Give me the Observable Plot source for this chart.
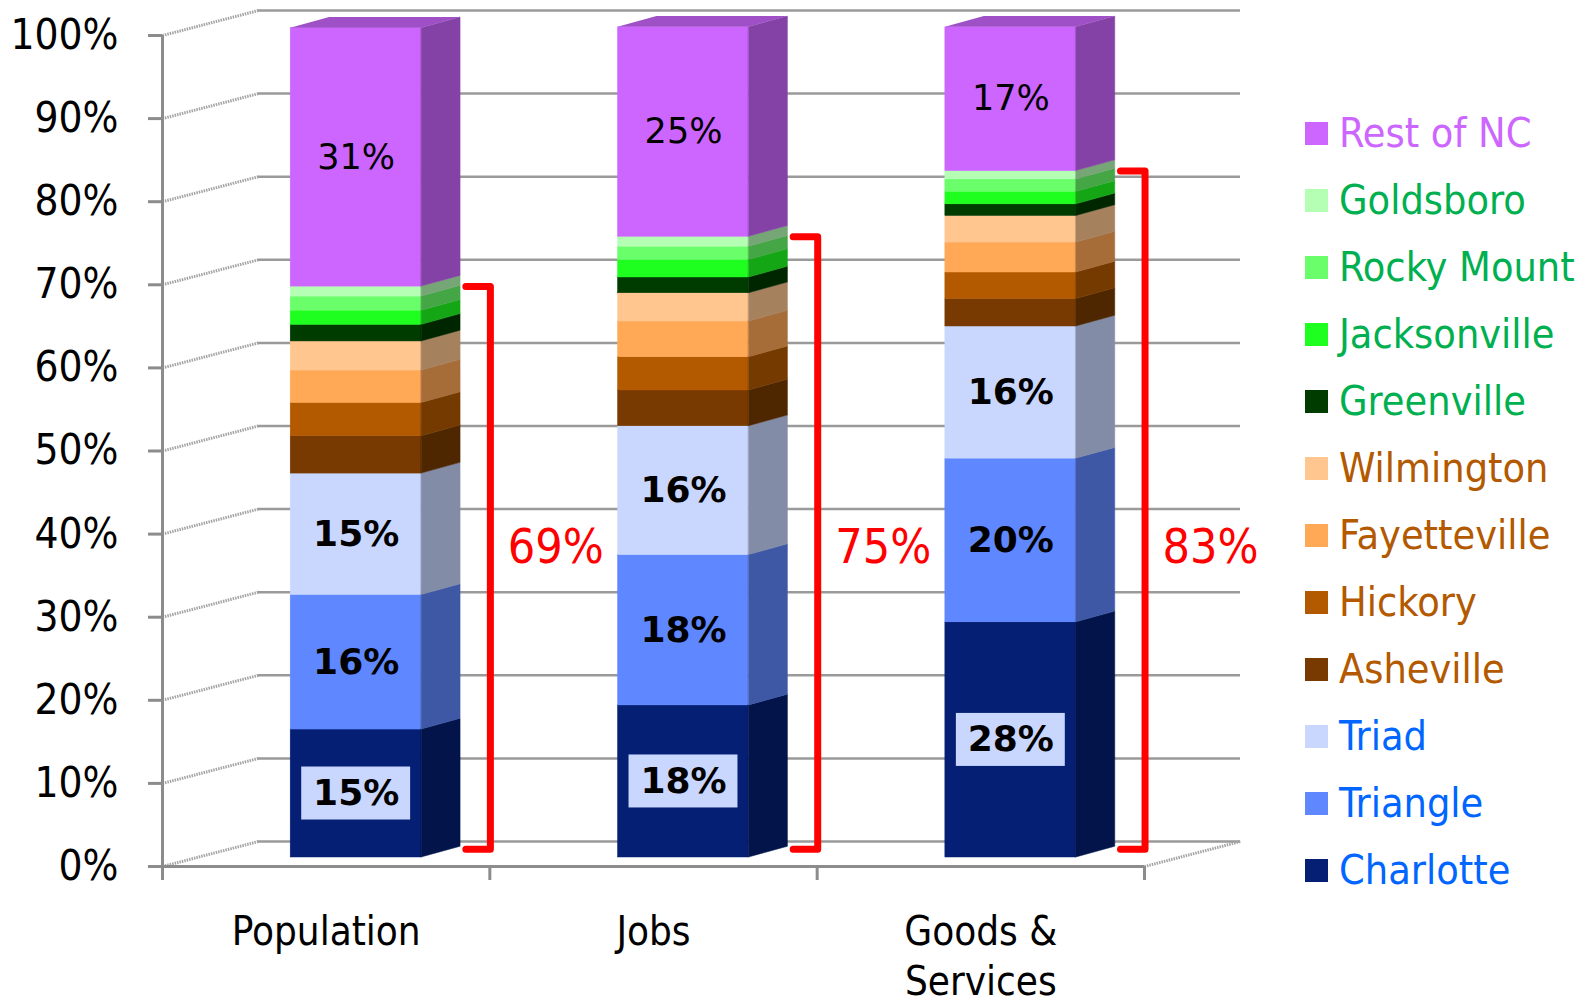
<!DOCTYPE html>
<html><head><meta charset="utf-8">
<script src="https://cdn.jsdelivr.net/npm/d3@7"></script>
<script src="https://cdn.jsdelivr.net/npm/@observablehq/plot@0.6"></script>
<style>
body{margin:0;background:#fff;}
#wrap{position:relative;width:1589px;height:1003px;overflow:hidden;background:#fff;}
#legend{position:absolute;left:1305px;top:0;font-family:"DejaVu Sans Condensed","DejaVu Sans",sans-serif;font-size:41px;}
.item{position:absolute;left:0;display:flex;align-items:center;height:60px;white-space:nowrap;}
.sw{width:23px;height:23px;margin-right:11px;flex:none;}
</style></head><body><div id="wrap"><div id="legend"></div></div>
<script>
// ---- data ----
const categories = ["Population", "Jobs", "Goods &\nServices"];
const cities = ["Charlotte","Triangle","Triad","Asheville","Hickory","Fayetteville","Wilmington","Greenville","Jacksonville","Rocky Mount","Goldsboro","Rest of NC"];
const population    = [15.4,16.2,14.6,4.5,4.0,3.9,3.5,2.0,1.7,1.7,1.2,31.1];
const jobs          = [18.3,18.1,15.5,4.3,4.0,4.3,3.4,1.9,2.1,1.6,1.2,25.2];
const goodsServices = [28.3,19.7,15.9,3.3,3.2,3.6,3.2,1.4,1.5,1.5,1.0,17.3];
const fillColors = ["#041F73","#5F87FF","#C9D7FF","#783A00","#B35900","#FFA856","#FFC690","#003B00","#1FFF1F","#6AFF6A","#B5FFB5","#CC66FF"];
const legendTextColors = ["#0066FF","#0066FF","#0066FF","#B35900","#B35900","#B35900","#B35900","#00B050","#00B050","#00B050","#00B050","#CC66FF"];
const yTicks = [0,10,20,30,40,50,60,70,80,90,100];
const series = [population, jobs, goodsServices];

// ---- projection (style) constants ----
const BAR_DX = 30, BAR_DY = -9;       // px shift of bar plane
const WALL_DX = 96, WALL_DY = -25;    // px shift of back wall
const WALL_X = 0.2933, WALL_Y = 3.01; // same shift in scale units
const BW = 0.4;                       // bar width (category units)
const DEPTH_X = 0.119, DEPTH_Y = 1.29;// bar depth in scale units
const shade = (c, f) => { const r = d3.rgb(c); return d3.rgb(r.r*f, r.g*f, r.b*f).formatHex(); };
const FONT = '"DejaVu Sans Condensed","DejaVu Sans",sans-serif';

// ---- derived tables ----
const rows = [];
series.forEach((vals, i) => {
  let acc = 0;
  vals.forEach((v, k) => { rows.push({i, k, city: cities[k], lo: acc, hi: acc + v, v}); acc += v; });
});
const side = rows.flatMap(r => {
  const x0 = r.i + 0.5 + BW/2;
  const key = r.i + "-" + r.k;
  return [{key, k: r.k, x: x0, y1: r.lo, y2: r.hi},
          {key, k: r.k, x: x0 + DEPTH_X, y1: r.lo + DEPTH_Y, y2: r.hi + DEPTH_Y}];
});
const tops = series.flatMap((vals, i) => {
  const T = d3.sum(vals), xl = i + 0.5 - BW/2, xr = i + 0.5 + BW/2;
  return [{i, x: xl, y1: T, y2: T},
          {i, x: xl + DEPTH_X, y1: T, y2: T + DEPTH_Y},
          {i, x: xr, y1: T, y2: T + DEPTH_Y},
          {i, x: xr + DEPTH_X, y1: T + DEPTH_Y, y2: T + DEPTH_Y}];
});
const brackets = series.map((vals, i) => ({i, total: d3.sum(vals.slice(0, 11))}));
const bracketPts = brackets.flatMap(b => {
  const xb = b.i + 0.91;
  return [{i: b.i, x: xb - 0.075, y: b.total}, {i: b.i, x: xb, y: b.total},
          {i: b.i, x: xb, y: 1}, {i: b.i, x: xb - 0.075, y: 1}];
});
const restRows = rows.filter(r => r.city === "Rest of NC");
const boldRows = rows.filter(r => r.city === "Triad" || r.city === "Triangle" || r.city === "Charlotte");
const boxRows = rows.filter(r => r.city === "Charlotte");
const mid = d => (d.lo + d.hi) / 2;
const pct = d => Math.round(d.v) + "%";

const chart = Plot.plot({
  width: 1589, height: 1003,
  marginLeft: 162, marginRight: 445, marginTop: 35, marginBottom: 137,
  x: {domain: [0, 3]},
  y: {domain: [0, 100]},
  color: {type: "identity"},
  style: {fontFamily: FONT, background: "white", overflow: "visible"},
  marks: [
    // back wall gridlines
    Plot.ruleY(yTicks, {x1: 0, x2: 3, dx: WALL_DX, dy: WALL_DY, stroke: "#9a9a9a", strokeWidth: 2.5}),
    // left wall diagonals
    Plot.link(yTicks, {x1: 0, y1: d => d, x2: WALL_X, y2: d => d + WALL_Y, stroke: "#a4a4a4", strokeWidth: 3, strokeDasharray: "1.5,1"}),
    // floor right edge
    Plot.link([0], {x1: 3, y1: 0, x2: 3 + WALL_X, y2: WALL_Y, stroke: "#a4a4a4", strokeWidth: 3, strokeDasharray: "1.5,1"}),
    // front axes
    Plot.ruleY([0], {x1: 0, x2: 3, stroke: "#8c8c8c", strokeWidth: 3}),
    Plot.ruleX([0], {y1: 0, y2: 100, stroke: "#8c8c8c", strokeWidth: 3}),
    Plot.axisY({ticks: yTicks, tickSize: 14, tickPadding: 30, tickFormat: d => d + "%", fontSize: 42, fontFamily: FONT, fill: "black", stroke: "#8c8c8c", strokeWidth: 3, label: null}),
    Plot.axisX({ticks: [0, 1, 2, 3], tickSize: 14, tickFormat: () => "", stroke: "#8c8c8c", strokeWidth: 3, label: null}),
    // bars: front faces
    Plot.rect(rows, {x1: d => d.i + 0.5 - BW/2, x2: d => d.i + 0.5 + BW/2, y1: "lo", y2: "hi",
      fill: d => fillColors[d.k], stroke: d => fillColors[d.k], strokeWidth: 0.5, dx: BAR_DX, dy: BAR_DY}),
    // bars: side faces
    Plot.area(side, {x1: "x", y1: "y1", y2: "y2", z: "key", fill: d => shade(fillColors[d.k], 0.65),
      stroke: d => shade(fillColors[d.k], 0.65), strokeWidth: 0.5, dx: BAR_DX, dy: BAR_DY}),
    // bars: top faces
    Plot.area(tops, {x1: "x", y1: "y1", y2: "y2", z: "i", fill: shade(fillColors[11], 0.78), dx: BAR_DX, dy: BAR_DY}),
    // label boxes for Charlotte
    Plot.rect(boxRows, {x1: d => d.i + 0.5 - BW/2, x2: d => d.i + 0.5 + BW/2, y1: mid, y2: mid,
      insetLeft: 11, insetRight: 11, insetTop: -26.5, insetBottom: -26.5, fill: fillColors[2], dx: BAR_DX, dy: BAR_DY}),
    // value labels
    Plot.text(restRows, {x: d => d.i + 0.5, y: mid, text: pct, fontSize: 35, fontFamily: "DejaVu Sans", fill: "black", dx: BAR_DX, dy: BAR_DY}),
    Plot.text(boldRows, {x: d => d.i + 0.5, y: mid, text: pct, fontSize: 36, fontWeight: "bold", fontFamily: "DejaVu Sans", fill: "black", dx: BAR_DX, dy: BAR_DY}),
    // brackets
    Plot.line(bracketPts, {x: "x", y: "y", z: "i", stroke: "#FF0000", strokeWidth: 7, strokeLinejoin: "round", dx: BAR_DX, dy: BAR_DY}),
    Plot.text(brackets, {x: d => d.i + 1.11, y: 37.3, text: d => Math.round(d.total) + "%", fill: "#FF0000", fontSize: 48, fontFamily: FONT, dx: BAR_DX, dy: BAR_DY}),
    // category labels
    Plot.text(categories, {x: (d, j) => j + 0.5, frameAnchor: "bottom", dy: 43, lineAnchor: "top", lineHeight: 1.25,
      text: d => d, fontSize: 40, fontFamily: FONT, fill: "black"})
  ]
});
document.getElementById("wrap").insertBefore(chart, document.getElementById("legend"));

// legend (HTML, right side)
const legend = document.getElementById("legend");
const order = cities.map((c, k) => k).reverse();
order.forEach((k, j) => {
  const item = document.createElement("div");
  item.className = "item";
  item.style.top = (133 + j * 67 - 30) + "px";
  const sw = document.createElement("div");
  sw.className = "sw";
  sw.style.background = fillColors[k];
  const t = document.createElement("span");
  t.textContent = cities[k];
  t.style.color = legendTextColors[k];
  item.appendChild(sw); item.appendChild(t);
  legend.appendChild(item);
});
</script>
</body></html>
